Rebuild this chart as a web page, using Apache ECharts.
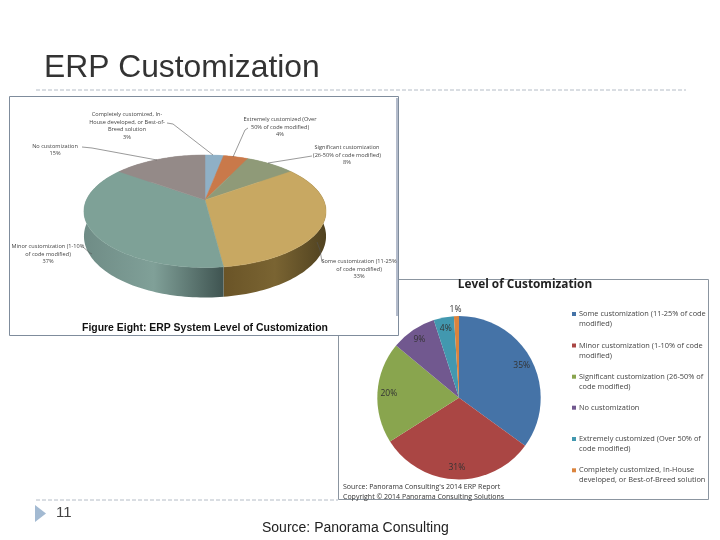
<!DOCTYPE html>
<html><head><meta charset="utf-8"><style>html,body{margin:0;padding:0;background:#fff}#c{width:720px;height:540px}</style>
<script src="https://cdn.jsdelivr.net/npm/echarts@6/dist/echarts.min.js"></script></head>
<body><div id="c"></div><script>
const slideTitle='ERP Customization', pageNumber='11', slideSource='Source: Panorama Consulting';
const leftCaption='Figure Eight: ERP System Level of Customization';
const leftNames=['Completely customized, In-\nHouse developed, or Best-of-\nBreed solution','Extremely customized (Over\n50% of code modified)','Significant customization\n(26-50% of code modified)','Some customization (11-25%\nof code modified)','Minor customization (1-10%\nof code modified)','No customization'];
const leftValues=[3,4,8,33,37,15];
const leftColors=['#8fb0c6','#c9794a','#8f9a78','#c8a862','#7ea197','#948a88'];
const leftWalls=[['#8fb0c6','#8fb0c6'],['#c9794a','#c9794a'],['#8f9a78','#8f9a78'],['#6a5427','#7a6432','#504220'],['#6f8c86','#80a098','#3f5451'],['#948a88','#948a88']];
const rightTitle='Level of Customization';
const rightNames=['Some customization (11-25% of code\nmodified)','Minor customization (1-10% of code\nmodified)','Significant customization (26-50% of\ncode modified)','No customization','Extremely customized (Over 50% of\ncode modified)','Completely customized, In-House\ndeveloped, or Best-of-Breed solution'];
const rightValues=[35,31,20,9,4,1];
const rightColors=['#4573a7','#aa4644','#89a54e','#71588f','#4298af','#db843d'];
const rightSource=["Source: Panorama Consulting's 2014 ERP Report",'Copyright © 2014 Panorama Consulting Solutions'];

const P={x:205,y:200,A:54,B:118.6,p:0.2,t:24};
function proj(f,down){const a=f*2*Math.PI,u=Math.sin(a),v=-Math.cos(a),s=1/(1-P.p*v);
 return [P.x+P.B*u*s,P.y+P.A*v*s+(down?P.t*s:0)];}
function arc(i,down){const total=leftValues.reduce((a,b)=>a+b,0);let c=0;for(let k=0;k<i;k++)c+=leftValues[k];
 const a=c/total,b=(c+leftValues[i])/total,n=Math.max(8,Math.round((b-a)*240)),pts=[];
 for(let k=0;k<=n;k++)pts.push(proj(a+(b-a)*k/n,down));return pts;}
function grad(st){return {type:'linear',x:0,y:0,x2:1,y2:0,colorStops:st.map((c,i)=>({offset:i/(st.length-1),color:c}))};}

const leftLabelLayout=[[127,126,'center'],[280,127,'center'],[347,155,'center'],[359,269,'center'],[48,254,'center'],[55,150,'center']];
const leaders=[[[167,123],[173,124],[213,155]],[[248,128],[245,130],[233,157]],[[312,156],[287,160],[268,163]],[[322,262],[320,250],[317,242]],[[83,247],[90,253],[92,254]],[[82,147],[92,148],[157,160]]];
const g=[];
function text(x,y,t,o){g.push({type:'text',x,y,z:10,style:Object.assign({text:t,fill:'#222',font:'10px "Liberation Sans"',textVerticalAlign:'middle'},o||{})});}
function rect(x,y,w,h,fill,stroke,z){g.push({type:'rect',z:z||0,shape:{x,y,width:w,height:h},style:{fill:fill,stroke:stroke||null,lineWidth:1}});}
function dash(x1,x2,y){g.push({type:'line',z:1,shape:{x1,y1:y,x2,y2:y},style:{stroke:'#b4bcc6',lineWidth:1,lineDash:[4,2]}});}
dash(36,686,90);dash(36,338,500);
rect(338.5,279.5,370,220,'#fff','#8b95a0');
rect(9.5,96.5,389,239,'#fff','#7f8c9c');
rect(396,98,2,218,'#b4bccc');
g.push({type:'polygon',z:1,shape:{points:[[35,505],[46,513.5],[35,522]]},style:{fill:'#a3bad2'}});
text(44,68,slideTitle,{font:'31.8px "Liberation Sans"',fill:'#333'});
text(56,513,pageNumber,{font:'15px "Liberation Sans"',fill:'#444'});
text(262,528,slideSource,{font:'14px "Liberation Sans"',fill:'#222'});
text(82,328,leftCaption,{font:'bold 10.45px "Liberation Sans"',fill:'#111'});
text(525,285,rightTitle,{font:'bold 11.8px "Open Sans"',fill:'#222',textAlign:'center'});
rightSource.forEach((t,i)=>text(343,487+i*10,t,{font:'7.0px "Open Sans"',fill:'#333'}));
leftNames.forEach((n,i)=>{const L=leftLabelLayout[i];
 text(L[0],L[1],n+'\n'+leftValues[i]+'%',{font:'5.6px "Open Sans"',fill:'#444',textAlign:L[2],lineHeight:7.7});
 g.push({type:'polyline',z:9,shape:{points:leaders[i]},style:{stroke:'#555',lineWidth:0.6,fill:null}});});
const legY=[314,345.5,376.7,407.7,439,470.3];
rightNames.forEach((n,i)=>{rect(572,legY[i]-2,4,4,rightColors[i],null,10);
 text(579,legY[i]+(n.includes('\n')?5:0),n,{font:'7.4px "Open Sans"',fill:'#444',lineHeight:10});});

const chart=echarts.init(document.getElementById('c'),null,{renderer:'canvas'});
chart.setOption({animation:false,
 graphic:{elements:g},
 series:[
 {type:'custom',coordinateSystem:'none',silent:true,z:2,data:leftValues,
  renderItem:(p)=>{const i=p.dataIndex,top=arc(i,false),low=arc(i,true).reverse();
   return {type:'polygon',shape:{points:top.concat(low)},style:{fill:grad(leftWalls[i])}};}},
 {type:'custom',coordinateSystem:'none',silent:true,z:3,data:leftValues,
  renderItem:(p)=>{const i=p.dataIndex;
   return {type:'polygon',shape:{points:[[P.x,P.y]].concat(arc(i,false))},style:{fill:leftColors[i],stroke:leftColors[i],lineWidth:0.5}};}},
 {type:'pie',silent:true,center:[459,397.7],radius:[0,81.7],startAngle:90,clockwise:true,z:4,label:{show:false},labelLine:{show:false},
  data:rightValues.map((v,i)=>({value:v,name:rightNames[i],itemStyle:{color:rightColors[i]}}))},
 {type:'pie',silent:true,center:[459,397.7],radius:[53,81.7],startAngle:90,clockwise:true,z:5,avoidLabelOverlap:false,
  labelLayout:p=>p.dataIndex===5?{dx:5,dy:-5}:{},
  label:{position:'inside',formatter:p=>p.value+'%',color:'#333',fontSize:8.5,fontFamily:'Open Sans'},labelLine:{show:false},
  data:rightValues.map((v,i)=>({value:v,name:rightNames[i],itemStyle:{color:'rgba(0,0,0,0)'},
   ...(v===1?{label:{position:'outside',distanceToLabelLine:0,alignTo:'none'},labelLine:{show:false,length:1,length2:0}}:{})}))}
 ]});
</script></body></html>
